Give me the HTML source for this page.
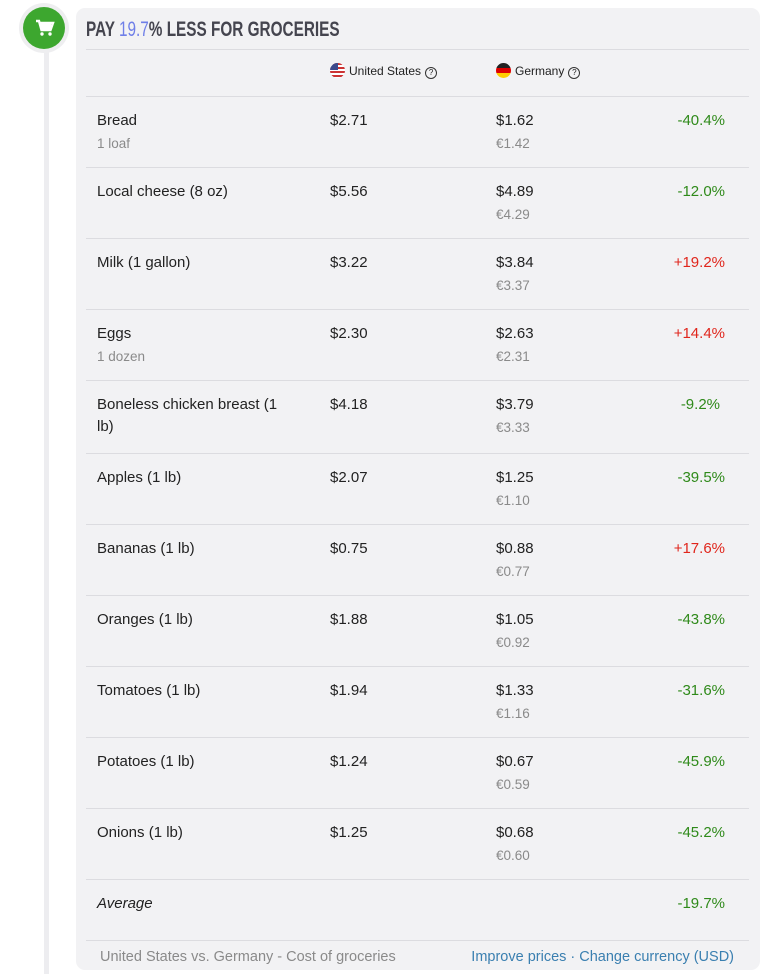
<!DOCTYPE html>
<html><head><style>
body{margin:0;width:766px;height:974px;background:#fff;font-family:"Liberation Sans",sans-serif;position:relative;overflow:hidden}
.vline{position:absolute;left:44px;top:30px;width:5px;height:944px;background:#ededf0}
.circ{position:absolute;left:23px;top:7px;width:42px;height:42px;border-radius:50%;background:#3da72f;box-shadow:0 0 0 4px #eeeef0}
.panel{position:absolute;left:76px;top:8px;width:684px;height:962px;background:#f2f2f4;border-radius:9px}
.title{position:absolute;left:86px;top:18px;font-weight:bold;font-size:21px;color:#45454f;transform:scaleX(0.73);transform-origin:0 0;white-space:nowrap}
.title span{color:#6f7fe8;font-weight:normal}
.line{position:absolute;left:86px;width:663px;height:1px;background:#dcdce0}
.t{position:absolute;font-size:15px;color:#222;line-height:22px}
.s{position:absolute;font-size:13.5px;color:#8a8a8a}
.g{color:#2f8a1a}.r{color:#e0261c}
.d{position:absolute;width:100px;text-align:right;left:625px;font-size:15px;line-height:22px}
.h{position:absolute;font-size:12px;color:#222;top:63px}
.flag{display:inline-block;width:15px;height:15px;border-radius:50%;vertical-align:-3px;margin-right:4px;overflow:hidden}
.q{display:inline-block;width:10px;height:10px;border:1.3px solid #333;border-radius:50%;font-size:8px;line-height:10px;text-align:center;margin-left:4px;vertical-align:0}
.ft{position:absolute;top:949px;font-size:14.5px}
</style></head><body>
<div class="vline"></div>
<div class="circ"><svg width="42" height="42" viewBox="0 0 42 42"><path d="M13 14h3l2.5 9h9l2.5-7H17" fill="none" stroke="#fff" stroke-width="2.4"/><rect x="17" y="16" width="11" height="6" fill="#fff"/><circle cx="19" cy="27" r="1.7" fill="#fff"/><circle cx="27" cy="27" r="1.7" fill="#fff"/></svg></div>
<div class="panel"></div>
<div class="title">PAY <span>19.7</span>% LESS FOR GROCERIES</div>
<div class="line" style="top:49px"></div>
<div class="h" style="left:330px"><span class="flag" style="background:repeating-linear-gradient(#c33 0 2px,#fff 2px 4px);position:relative"><span style="position:absolute;left:0;top:0;width:8px;height:7px;background:#3c4a8c"></span></span>United States<span class="q">?</span></div>
<div class="h" style="left:496px"><span class="flag" style="background:linear-gradient(#222 0 33%,#d00 33% 66%,#fc0 66%)"></span>Germany<span class="q">?</span></div>
<div class="line" style="top:96px"></div>

<div class="t" style="left:97px;top:110px">Bread</div><div class="s" style="left:97px;top:136px">1 loaf</div><div class="t" style="left:330px;top:110px">$2.71</div><div class="t" style="left:496px;top:110px">$1.62</div><div class="s" style="left:496px;top:136px">€1.42</div><div class="d g" style="top:110px">-40.4%</div>
<div class="line" style="top:167px"></div>
<div class="t" style="left:97px;top:181px">Local cheese (8 oz)</div><div class="t" style="left:330px;top:181px">$5.56</div><div class="t" style="left:496px;top:181px">$4.89</div><div class="s" style="left:496px;top:207px">€4.29</div><div class="d g" style="top:181px">-12.0%</div>
<div class="line" style="top:238px"></div>
<div class="t" style="left:97px;top:252px">Milk (1 gallon)</div><div class="t" style="left:330px;top:252px">$3.22</div><div class="t" style="left:496px;top:252px">$3.84</div><div class="s" style="left:496px;top:278px">€3.37</div><div class="d r" style="top:252px">+19.2%</div>
<div class="line" style="top:309px"></div>
<div class="t" style="left:97px;top:323px">Eggs</div><div class="s" style="left:97px;top:349px">1 dozen</div><div class="t" style="left:330px;top:323px">$2.30</div><div class="t" style="left:496px;top:323px">$2.63</div><div class="s" style="left:496px;top:349px">€2.31</div><div class="d r" style="top:323px">+14.4%</div>
<div class="line" style="top:380px"></div>
<div class="t" style="left:97px;top:394px;width:195px">Boneless chicken breast (1 lb)</div><div class="t" style="left:330px;top:394px">$4.18</div><div class="t" style="left:496px;top:394px">$3.79</div><div class="s" style="left:496px;top:420px">€3.33</div><div class="d g" style="top:394px;left:620px">-9.2%</div>
<div class="line" style="top:453px"></div>
<div class="t" style="left:97px;top:467px">Apples (1 lb)</div><div class="t" style="left:330px;top:467px">$2.07</div><div class="t" style="left:496px;top:467px">$1.25</div><div class="s" style="left:496px;top:493px">€1.10</div><div class="d g" style="top:467px">-39.5%</div>
<div class="line" style="top:524px"></div>
<div class="t" style="left:97px;top:538px">Bananas (1 lb)</div><div class="t" style="left:330px;top:538px">$0.75</div><div class="t" style="left:496px;top:538px">$0.88</div><div class="s" style="left:496px;top:564px">€0.77</div><div class="d r" style="top:538px">+17.6%</div>
<div class="line" style="top:595px"></div>
<div class="t" style="left:97px;top:609px">Oranges (1 lb)</div><div class="t" style="left:330px;top:609px">$1.88</div><div class="t" style="left:496px;top:609px">$1.05</div><div class="s" style="left:496px;top:635px">€0.92</div><div class="d g" style="top:609px">-43.8%</div>
<div class="line" style="top:666px"></div>
<div class="t" style="left:97px;top:680px">Tomatoes (1 lb)</div><div class="t" style="left:330px;top:680px">$1.94</div><div class="t" style="left:496px;top:680px">$1.33</div><div class="s" style="left:496px;top:706px">€1.16</div><div class="d g" style="top:680px">-31.6%</div>
<div class="line" style="top:737px"></div>
<div class="t" style="left:97px;top:751px">Potatoes (1 lb)</div><div class="t" style="left:330px;top:751px">$1.24</div><div class="t" style="left:496px;top:751px">$0.67</div><div class="s" style="left:496px;top:777px">€0.59</div><div class="d g" style="top:751px">-45.9%</div>
<div class="line" style="top:808px"></div>
<div class="t" style="left:97px;top:822px">Onions (1 lb)</div><div class="t" style="left:330px;top:822px">$1.25</div><div class="t" style="left:496px;top:822px">$0.68</div><div class="s" style="left:496px;top:848px">€0.60</div><div class="d g" style="top:822px">-45.2%</div>
<div class="line" style="top:879px"></div>
<div class="t" style="left:97px;top:893px;font-style:italic">Average</div><div class="d g" style="top:893px">-19.7%</div>
<div class="line" style="top:940px"></div>
<div class="ft" style="left:100px;color:#8a8a8a">United States vs. Germany - Cost of groceries</div>
<div class="ft" style="right:32px;color:#3a7fb0">Improve prices · Change currency (USD)</div>
</body></html>
